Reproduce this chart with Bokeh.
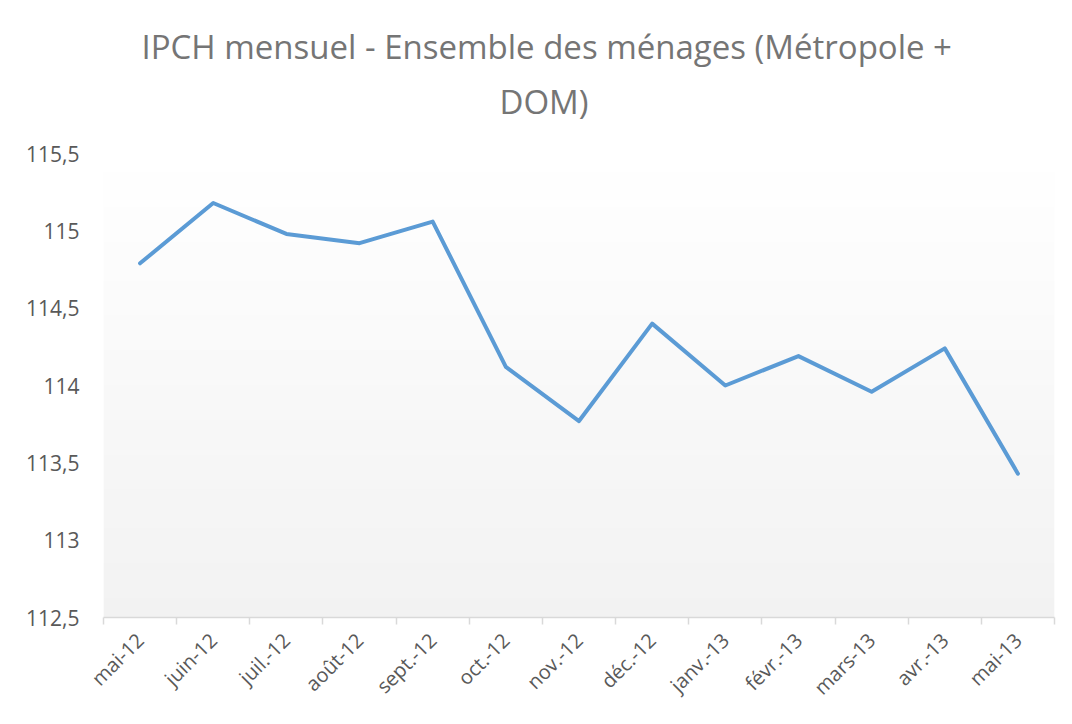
import numpy as np
from bokeh.plotting import figure
from bokeh.models import Range1d, FixedTicker, CustomJSTickFormatter, Title
from bokeh.embed import file_html
from bokeh.resources import INLINE

# ---- data ----
months = ["mai-12", "juin-12", "juil.-12", "août-12", "sept.-12", "oct.-12", "nov.-12",
          "déc.-12", "janv.-13", "févr.-13", "mars-13", "avr.-13", "mai-13"]
ipch = [114.79, 115.18, 114.98, 114.92, 115.06, 114.12, 113.77,
        114.40, 114.00, 114.19, 113.96, 114.24, 113.43]
y_ticks = [112.5, 113.0, 113.5, 114.0, 114.5, 115.0, 115.5]
title_lines = ["IPCH mensuel - Ensemble des ménages (Métropole +", "DOM)"]

FONT = "Open Sans"
TXT = "#595959"

n = len(months)
xs = [i + 0.5 for i in range(n)]

p = figure(width=1066, height=720, output_backend="svg", toolbar_location=None,
           x_range=Range1d(0, n), y_range=Range1d(y_ticks[0], y_ticks[-1]),
           min_border_left=103, min_border_right=12, min_border_top=153,
           min_border_bottom=103)
p.outline_line_color = None
p.background_fill_color = "white"
p.border_fill_color = "white"
p.xgrid.grid_line_color = None
p.ygrid.grid_line_color = None

# gradient plot-area background (white at top -> light grey at bottom)
N = 120
img = np.zeros((N, 1), dtype=np.uint32)
view = img.view(dtype=np.uint8).reshape((N, 1, 4))
for r in range(N):
    v = int(round(242 + 13 * r / (N - 1)))
    view[r, 0, :] = [v, v, v, 255]
p.image_rgba(image=[img], x=0, y=y_ticks[0], dw=n, dh=y_ticks[-1] - y_ticks[0])

p.line(xs, ipch, line_color="#5B9BD5", line_width=4, line_join="round", line_cap="round")

# y axis
p.yaxis.ticker = FixedTicker(ticks=y_ticks)
p.yaxis.formatter = CustomJSTickFormatter(code="return tick.toString().replace('.', ',');")
p.yaxis.axis_line_color = None
p.yaxis.major_tick_line_color = None
p.yaxis.minor_tick_line_color = None
p.yaxis.major_tick_out = 0
p.yaxis.major_tick_in = 0
p.yaxis.major_label_standoff = 24
p.yaxis.major_label_text_font = FONT
p.yaxis.major_label_text_font_size = "21px"
p.yaxis.major_label_text_color = TXT

# x axis
p.xaxis.ticker = FixedTicker(ticks=xs, minor_ticks=list(range(n + 1)))
p.xaxis.formatter = CustomJSTickFormatter(args=dict(labels=months),
                                          code="return labels[Math.floor(tick)];")
p.xaxis.axis_line_color = "#d9d9d9"
p.xaxis.axis_line_width = 1.5
p.xaxis.major_tick_line_color = None
p.xaxis.major_tick_out = 0
p.xaxis.major_tick_in = 0
p.xaxis.minor_tick_line_color = "#d9d9d9"
p.xaxis.minor_tick_line_width = 1.5
p.xaxis.minor_tick_out = 7
p.xaxis.minor_tick_in = 0
p.xaxis.major_label_orientation = np.pi / 4
p.xaxis.major_label_standoff = 12
p.xaxis.major_label_text_font = FONT
p.xaxis.major_label_text_font_size = "20px"
p.xaxis.major_label_text_color = TXT

# title (two lines), first added sits closest to the frame
for t, off, so in [(title_lines[1], 396, 60), (title_lines[0], 38, -44)]:
    p.add_layout(Title(text=t, align="left", offset=off, standoff=so,
                       text_font=FONT, text_font_size="33px", text_font_style="normal",
                       text_color="#757575"), "above")

open("out.html", "w").write(file_html(p, INLINE))
